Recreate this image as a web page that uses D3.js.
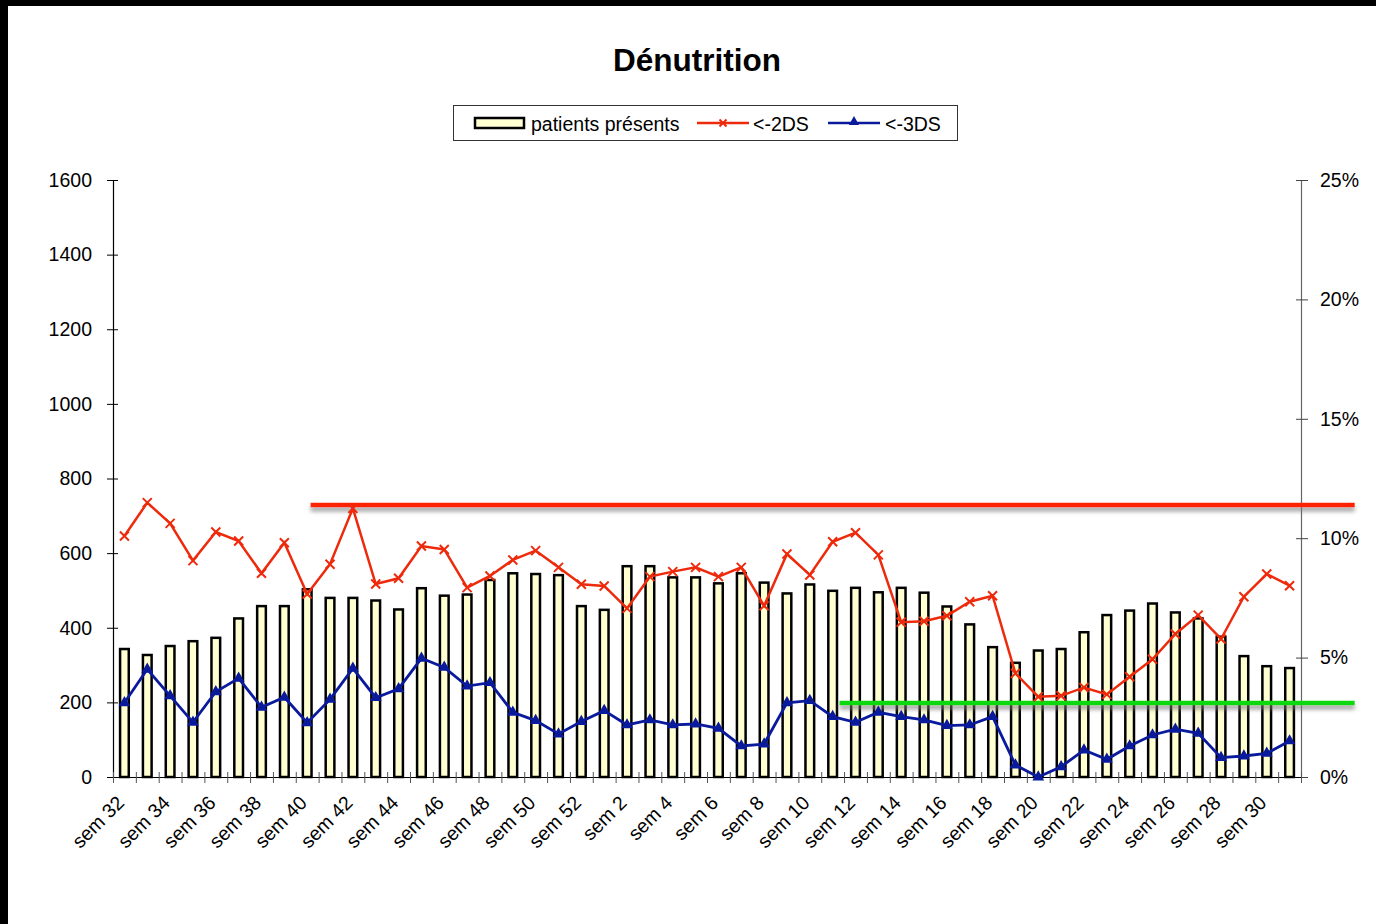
<!DOCTYPE html>
<html lang="fr">
<head>
<meta charset="utf-8" />
<title>Dénutrition</title>
<script src="https://cdn.jsdelivr.net/npm/d3@7"></script>
<style>
    body { margin: 0; background: #000; }
    text { font-family: "Liberation Sans", Arial, sans-serif; fill: #000; }
</style>
</head>
<body>
<div id="chart"></div>
<script>

// categories (weeks)
const weeks = ["sem 32", "sem 33", "sem 34", "sem 35", "sem 36", "sem 37", "sem 38", "sem 39", "sem 40",
    "sem 41", "sem 42", "sem 43", "sem 44", "sem 45", "sem 46", "sem 47", "sem 48", "sem 49", "sem 50",
    "sem 51", "sem 52", "sem 1", "sem 2", "sem 3", "sem 4", "sem 5", "sem 6", "sem 7", "sem 8", "sem 9",
    "sem 10", "sem 11", "sem 12", "sem 13", "sem 14", "sem 15", "sem 16", "sem 17", "sem 18", "sem 19",
    "sem 20", "sem 21", "sem 22", "sem 23", "sem 24", "sem 25", "sem 26", "sem 27", "sem 28", "sem 29",
    "sem 30", "sem 31"];

// patients présents (left axis)
const patients = [343, 327, 351, 364, 373, 425, 458, 458, 503, 480, 480, 473, 449, 506, 486, 489, 528, 546,
    544, 541, 458, 448, 565, 565, 535, 535, 519, 546, 521, 492, 516, 499, 507, 495, 507, 494, 457, 409, 348,
    306, 339, 343, 388, 434, 446, 465, 441, 425, 376, 324, 297, 292];

// <-2DS in % (right axis)
const below2DS = [10.09, 11.49, 10.62, 9.06, 10.26, 9.88, 8.53, 9.81, 7.66, 8.91, 11.25, 8.08, 8.32, 9.67,
    9.53, 7.93, 8.42, 9.09, 9.48, 8.78, 8.07, 8.00, 7.06, 8.39, 8.60, 8.78, 8.39, 8.78, 7.17, 9.34, 8.46,
    9.85, 10.23, 9.30, 6.48, 6.52, 6.75, 7.34, 7.59, 4.34, 3.36, 3.40, 3.75, 3.46, 4.20, 4.93, 5.99, 6.78,
    5.78, 7.55, 8.50, 8.01];

// <-3DS in % (right axis)
const below3DS = [3.11, 4.51, 3.40, 2.29, 3.57, 4.13, 2.92, 3.34, 2.27, 3.25, 4.55, 3.32, 3.69, 4.97, 4.59,
    3.81, 3.95, 2.71, 2.36, 1.80, 2.32, 2.78, 2.18, 2.39, 2.18, 2.22, 2.04, 1.30, 1.38, 3.11, 3.20, 2.53,
    2.29, 2.71, 2.53, 2.39, 2.15, 2.18, 2.53, 0.50, 0.00, 0.43, 1.13, 0.74, 1.30, 1.76, 2.00, 1.83, 0.81,
    0.88, 0.99, 1.51];

// ticks
const leftTicks = [0, 200, 400, 600, 800, 1000, 1200, 1400, 1600];
const rightTicks = [0, 5, 10, 15, 20, 25];

// drawn target lines: percent level, from / to in category units
const targetRed = { value: 11.39, from: 8.65, to: 54.35 };
const targetGreen = { value: 3.1, from: 31.8, to: 54.35 };

const W = 1376, H = 924;
const plot = { left: 113, right: 1301, top: 180, bottom: 777 };
const fs = "19.5px";

const svg = d3.select("#chart").append("svg")
    .attr("width", W)
    .attr("height", H)
    .style("display", "block");

// black frame like the screenshot
svg.append("rect").attr("width", W).attr("height", H).attr("fill", "#000");
svg.append("rect").attr("x", 8).attr("y", 6).attr("width", W - 8).attr("height", H - 6).attr("fill", "#fff");

const defs = svg.append("defs");
defs.append("filter").attr("id", "shadow")
    .attr("filterUnits", "userSpaceOnUse")
    .attr("x", 0).attr("y", 0).attr("width", W).attr("height", H)
    .append("feDropShadow")
    .attr("dx", 0).attr("dy", 4).attr("stdDeviation", 2.2)
    .attr("flood-color", "#777").attr("flood-opacity", 0.75);

// scales
const x = d3.scaleBand().domain(weeks).range([plot.left, plot.right]);
const xi = d3.scaleLinear().domain([0, weeks.length]).range([plot.left, plot.right]);
const yLeft = d3.scaleLinear().domain([0, 1600]).range([plot.bottom, plot.top]);
const yRight = d3.scaleLinear().domain([0, 25]).range([plot.bottom, plot.top]);

const cx = d => x(d) + x.bandwidth() / 2;

// title
svg.append("text")
    .attr("x", 697).attr("y", 71)
    .attr("text-anchor", "middle")
    .style("font-size", "31.5px").style("font-weight", "bold")
    .text("Dénutrition");

// left axis
const gLeft = svg.append("g")
    .attr("transform", "translate(" + plot.left + ",0)")
    .call(d3.axisLeft(yLeft).tickValues(leftTicks).tickFormat(d3.format("d"))
        .tickSizeInner(6).tickSizeOuter(0).tickPadding(15));
gLeft.select(".domain").attr("stroke", "#000").attr("stroke-width", 1.2);
gLeft.selectAll(".tick line").attr("x1", 5).attr("x2", -6).attr("stroke", "#000");
gLeft.selectAll(".tick text").style("font-size", fs).attr("font-family", null);

// right axis
const gRight = svg.append("g")
    .attr("transform", "translate(" + plot.right + ",0)")
    .call(d3.axisRight(yRight).tickValues(rightTicks).tickFormat(d => d + "%")
        .tickSizeInner(7).tickSizeOuter(0).tickPadding(12));
gRight.select(".domain").attr("stroke", "#666").attr("stroke-width", 1.2);
gRight.selectAll(".tick line").attr("x1", -5).attr("x2", 7).attr("stroke", "#444");
gRight.selectAll(".tick text").style("font-size", fs).attr("font-family", null);

// bottom axis: ticks on category boundaries
const gBottom = svg.append("g")
    .attr("transform", "translate(0," + plot.bottom + ")")
    .call(d3.axisBottom(xi).tickValues(d3.range(weeks.length + 1)).tickFormat("").tickSizeOuter(0));
gBottom.select(".domain").attr("stroke", "#000").attr("stroke-width", 1.2);
gBottom.selectAll(".tick line").attr("y1", -5).attr("y2", 6).attr("stroke", "#555");

// bottom labels, every other week
const gLabels = svg.append("g")
    .attr("transform", "translate(0," + plot.bottom + ")")
    .call(d3.axisBottom(x).tickSize(0).tickFormat((d, i) => i % 2 === 0 ? d : ""));
gLabels.select(".domain").remove();
gLabels.selectAll(".tick text")
    .attr("y", null).attr("dy", null)
    .attr("transform", "translate(1,27) rotate(-45)")
    .style("text-anchor", "end")
    .style("font-size", fs)
    .attr("font-family", null);

// bars
const barW = x.bandwidth() * 0.38;
svg.append("g").selectAll("rect")
    .data(patients)
    .join("rect")
    .attr("x", (d, i) => cx(weeks[i]) - barW / 2)
    .attr("y", d => yLeft(d))
    .attr("width", barW)
    .attr("height", d => yLeft(0) - yLeft(d))
    .attr("fill", "#FFFFD2")
    .attr("stroke", "#000")
    .attr("stroke-width", 2.5);

// target lines
[[targetRed, "#FF2200"], [targetGreen, "#11D811"]].forEach(function (t) {
    svg.append("line")
        .attr("x1", xi(t[0].from)).attr("x2", xi(t[0].to))
        .attr("y1", yRight(t[0].value)).attr("y2", yRight(t[0].value))
        .attr("stroke", t[1]).attr("stroke-width", 4.5)
        .attr("filter", "url(#shadow)");
});

// lines
const line = d3.line().x((d, i) => cx(weeks[i])).y(d => yRight(d));
const red = "#EE2A0C", blue = "#0A1A9C";
const xMark = "M-4.5,-4.5L4.5,4.5M-4.5,4.5L4.5,-4.5";

svg.append("path").datum(below2DS)
    .attr("d", line).attr("fill", "none").attr("stroke", red).attr("stroke-width", 2.5);
svg.append("g").selectAll("path")
    .data(below2DS)
    .join("path")
    .attr("transform", (d, i) => "translate(" + cx(weeks[i]) + "," + yRight(d) + ")")
    .attr("d", xMark).attr("stroke", red).attr("stroke-width", 2).attr("fill", "none");

svg.append("path").datum(below3DS)
    .attr("d", line).attr("fill", "none").attr("stroke", blue).attr("stroke-width", 2.8);
svg.append("g").selectAll("path")
    .data(below3DS)
    .join("path")
    .attr("transform", (d, i) => "translate(" + cx(weeks[i]) + "," + yRight(d) + ")")
    .attr("d", d3.symbol(d3.symbolTriangle, 60))
    .attr("fill", blue);

// legend
const legend = svg.append("g");
legend.append("rect")
    .attr("x", 453.5).attr("y", 105.5).attr("width", 504).attr("height", 35)
    .attr("fill", "#fff").attr("stroke", "#333").attr("stroke-width", 1);

legend.append("rect")
    .attr("x", 475).attr("y", 118).attr("width", 49).attr("height", 10)
    .attr("fill", "#FFFFD2").attr("stroke", "#000").attr("stroke-width", 2.5);
legend.append("text").attr("x", 531).attr("y", 131).style("font-size", fs).text("patients présents");

legend.append("line").attr("x1", 697).attr("x2", 749).attr("y1", 123).attr("y2", 123)
    .attr("stroke", red).attr("stroke-width", 2.5);
legend.append("path").attr("transform", "translate(723,123)")
    .attr("d", "M-3.5,-3.5L3.5,3.5M-3.5,3.5L3.5,-3.5").attr("stroke", red).attr("stroke-width", 2);
legend.append("text").attr("x", 753).attr("y", 131).style("font-size", fs).text("<-2DS");

legend.append("line").attr("x1", 828).attr("x2", 880).attr("y1", 123).attr("y2", 123)
    .attr("stroke", blue).attr("stroke-width", 2.5);
legend.append("path").attr("transform", "translate(854,122)")
    .attr("d", d3.symbol(d3.symbolTriangle, 45)).attr("fill", blue);
legend.append("text").attr("x", 885).attr("y", 131).style("font-size", fs).text("<-3DS");

</script>
</body>
</html>
